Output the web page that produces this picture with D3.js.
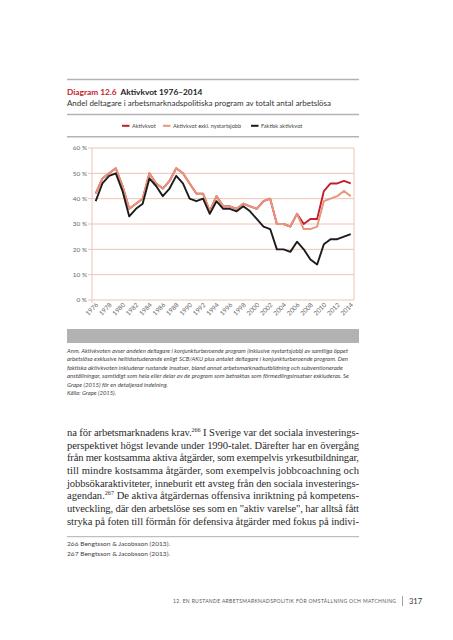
<!DOCTYPE html>
<html><head><meta charset="utf-8">
<script src="https://cdn.jsdelivr.net/npm/d3@7"></script>
<style>html,body{margin:0;padding:0;background:#fff;}svg{display:block;}</style>
</head><body>
<svg id="c" width="453" height="640"></svg>
<script>
const years = [1976,1977,1978,1979,1980,1981,1982,1983,1984,1985,1986,1987,1988,1989,1990,1991,1992,1993,1994,1995,1996,1997,1998,1999,2000,2001,2002,2003,2004,2005,2006,2007,2008,2009,2010,2011,2012,2013,2014];
const aktivkvot = [42,48,50,52,45,36,38,40,50,46,44,47,52,50,46,42,42,35,41,37,37,36,38,37,36,39,40,30,30,29,34,30,32,32,43,46,46,47,46];
const aktivkvotExkl = [42,48,50,52,45,36,38,40,50,46,44,47,52,50,46,42,42,35,41,37,37,36,38,37,36,39,40,30,30,29,34,28,28,29,39,40,41,43,41];
const faktisk = [39,46,49,50,43,33,36,38,48,45,41,44,49,46,40,39,40,34,39,36,36,35,37,35,32,29,28,20,20,19,23,20,16,14,22,24,24,25,26];
const yTicks = [0,10,20,30,40,50,60];
const xTickYears = [1976,1978,1980,1982,1984,1986,1988,1990,1992,1994,1996,1998,2000,2002,2004,2006,2008,2010,2012,2014];
const seriesNames = ["Aktivkvot","Aktivkvot exkl. nystartsjobb","Faktisk aktivkvot"];
const seriesColors = ["#c41e2a","#e8957d","#1c1c1c"];

const svg = d3.select("#c");
const sans = "Lato, 'Liberation Sans', sans-serif";
const serif = "'Liberation Serif', 'DejaVu Serif', serif";
const ruleColor = "#b3b3b3";
const L = 67, R = 359;

// header rules
[79.5,114.5,136.7].forEach(y=>svg.append("line").attr("x1",L).attr("x2",R).attr("y1",y).attr("y2",y).attr("stroke",ruleColor).attr("stroke-width",1.6));

const t = svg.append("text").attr("x",L).attr("y",94.5).attr("font-family",sans).attr("font-size",8.3);
t.append("tspan").attr("fill","#c41e2a").attr("font-weight","bold").text("Diagram 12.6");
t.append("tspan").attr("fill","#222").attr("font-weight","bold").attr("dx",4).text("Aktivkvot 1976–2014");
svg.append("text").attr("x",L).attr("y",106).attr("font-family",sans).attr("font-size",7.6).attr("fill","#333")
  .attr("textLength",264).attr("lengthAdjust","spacingAndGlyphs")
  .text("Andel deltagare i arbetsmarknadspolitiska program av totalt antal arbetslösa");

// legend
const legX = [122,163,251];
seriesNames.forEach((n,i)=>{
  svg.append("rect").attr("x",legX[i]).attr("y",124.8).attr("width",7.5).attr("height",2).attr("fill",seriesColors[i]);
  svg.append("text").attr("x",legX[i]+10).attr("y",127.8).attr("font-family",sans).attr("font-size",5.6).attr("fill","#444").text(n);
});

// chart
const x = d3.scaleLinear().domain([1976,2014]).range([95.7,350.7]);
const y = d3.scaleLinear().domain([0,60]).range([300,148]);
const gridColor = "#f1c3b5";
const px0 = 92, px1 = 354;
yTicks.forEach(v=>{
  svg.append("line").attr("x1",px0-4).attr("x2",px1).attr("y1",y(v)).attr("y2",y(v)).attr("stroke",gridColor).attr("stroke-width",1);
  svg.append("text").attr("x",px0-5).attr("y",y(v)+2.3).attr("text-anchor","end").attr("font-family",sans).attr("font-size",6.4).attr("fill","#666").text(v+" %");
});
svg.append("line").attr("x1",px0).attr("x2",px0).attr("y1",y(60)).attr("y2",y(0)+3).attr("stroke",gridColor).attr("stroke-width",1);
svg.append("line").attr("x1",px1).attr("x2",px1).attr("y1",y(60)).attr("y2",y(0)).attr("stroke",gridColor).attr("stroke-width",1);

xTickYears.forEach(yr=>{
  svg.append("text").attr("transform",`translate(${x(yr)+3},${y(0)+5.5}) rotate(-45)`)
    .attr("text-anchor","end").attr("font-family",sans).attr("font-size",6.4).attr("fill","#666").text(yr);
});

const line = d3.line().x((d,i)=>x(years[i])).y(d=>y(d)).curve(d3.curveLinear);
[aktivkvot,aktivkvotExkl,faktisk].forEach((s,i)=>{
  svg.append("path").datum(s).attr("d",line).attr("fill","none").attr("stroke",seriesColors[i]).attr("stroke-width",1.9).attr("stroke-linejoin","round");
});

// gray band
svg.append("rect").attr("x",L).attr("y",329).attr("width",R-L).attr("height",14).attr("fill","#b2b2b2");

// notes
const notes = [
 ["Anm. Aktivkvoten avser andelen deltagare i konjunkturberoende program (inklusive nystartsjobb) av samtliga öppet",281],
 ["arbetslösa exklusive heltidsstuderande enligt SCB/AKU plus antalet deltagare i konjunkturberoende program. Den",281],
 ["faktiska aktivkvoten inkluderar rustande insatser, bland annat arbetsmarknadsutbildning och subventionerade",276],
 ["anställningar, samtidigt som hela eller delar av de program som betraktas som förmedlingsinsatser exkluderas. Se",282],
 ["Grape (2015) för en detaljerad indelning.",101],
 ["Källa: Grape (2015).",49]
];
notes.forEach((n,i)=>{
  svg.append("text").attr("x",L).attr("y",353+i*8.45).attr("font-family",sans).attr("font-style","italic")
    .attr("font-size",5.7).attr("fill","#444").attr("textLength",n[1]).attr("lengthAdjust","spacingAndGlyphs").text(n[0]);
});

// body text
const body = [
 ["na för arbetsmarknadens krav.","266"," I Sverige var det sociala investerings-"],
 ["perspektivet högst levande under 1990-talet. Därefter har en övergång"],
 ["från mer kostsamma aktiva åtgärder, som exempelvis yrkesutbildningar,"],
 ["till mindre kostsamma åtgärder, som exempelvis jobbcoachning och"],
 ["jobbsökaraktiviteter, inneburit ett avsteg från den sociala investerings-"],
 ["agendan.","267"," De aktiva åtgärdernas offensiva inriktning på kompetens-"],
 ["utveckling, där den arbetslöse ses som en \"aktiv varelse\", har alltså fått"],
 ["stryka på foten till förmån för defensiva åtgärder med fokus på indivi-"]
];
body.forEach((parts,i)=>{
  const tx = svg.append("text").attr("x",L).attr("y",436+i*12.65).attr("font-family",serif).attr("font-size",10.6).attr("fill","#2a2a2a")
    .attr("textLength",R-L).attr("lengthAdjust","spacing");
  parts.forEach((p,j)=>{
    const ts = tx.append("tspan").text(p);
    if(j===1){ ts.attr("font-size",6.2).attr("dy",-4); }
    if(j===2){ ts.attr("dy",4); }
  });
});

svg.append("line").attr("x1",L).attr("x2",R).attr("y1",536.7).attr("y2",536.7).attr("stroke","#999").attr("stroke-width",0.8);
["266 Bengtsson & Jacobsson (2013).","267 Bengtsson & Jacobsson (2013)."].forEach((s,i)=>{
  svg.append("text").attr("x",L).attr("y",546.3+i*10).attr("font-family",sans).attr("font-size",6.4).attr("fill","#444")
    .attr("textLength",103).attr("lengthAdjust","spacingAndGlyphs").text(s);
});

// footer
svg.append("text").attr("x",173).attr("y",603).attr("font-family",sans).attr("font-size",5).attr("fill","#555")
  .attr("textLength",223).attr("lengthAdjust","spacing").text("12. EN RUSTANDE ARBETSMARKNADSPOLITIK FÖR OMSTÄLLNING OCH MATCHNING");
svg.append("line").attr("x1",402.5).attr("x2",402.5).attr("y1",596).attr("y2",606).attr("stroke","#888").attr("stroke-width",0.8);
svg.append("text").attr("x",409).attr("y",604).attr("font-family",sans).attr("font-size",7.5).attr("fill","#333").text("317");
</script>
</body></html>
